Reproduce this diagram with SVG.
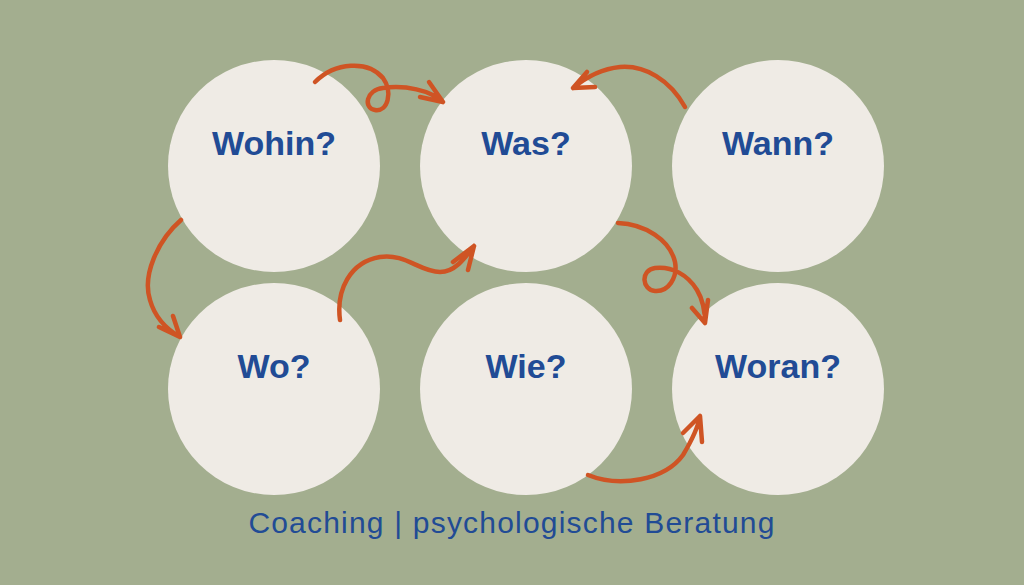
<svg xmlns="http://www.w3.org/2000/svg" width="1024" height="585" viewBox="0 0 1024 585">
<style>
.bg{fill:#a3ae8f}
.c{fill:#efebe5}
.t{font-family:"Liberation Sans",Arial,sans-serif;font-weight:bold;font-size:34px;fill:#214b95;text-anchor:middle}
.cap{font-family:"Liberation Sans",Arial,sans-serif;font-size:30px;letter-spacing:1.2px;fill:#214b95;text-anchor:middle}
.a{fill:none;stroke:#cf5424;stroke-width:4.5;stroke-linecap:round;stroke-linejoin:round}
</style>
<rect class="bg" x="0" y="0" width="1024" height="585"/>
<g id="wohin"><circle class="c" cx="274" cy="166" r="106"/><text class="t" x="274" y="155">Wohin?</text></g>
<g id="was"><circle class="c" cx="526" cy="166" r="106"/><text class="t" x="526" y="155">Was?</text></g>
<g id="wann"><circle class="c" cx="778" cy="166" r="106"/><text class="t" x="778" y="155">Wann?</text></g>
<g id="wo"><circle class="c" cx="274" cy="389" r="106"/><text class="t" x="274" y="378">Wo?</text></g>
<g id="wie"><circle class="c" cx="526" cy="389" r="106"/><text class="t" x="526" y="378">Wie?</text></g>
<g id="woran"><circle class="c" cx="778" cy="389" r="106"/><text class="t" x="778" y="378">Woran?</text></g>
<g id="connectors">
<path class="a" d="M315,82 C335,62 368,60 383,78 C393,92 388,112 375,110 C363,108 366,90 383,88 C405,85 430,90 443,102 M429,82 L443,102 L420,97"/>
<path class="a" d="M685,107 C670,80 645,65 620,67 C600,69 585,78 573,88 M587,72 L573,88 L595,87"/>
<path class="a" d="M181,220 C158,240 142,275 150,300 C155,318 168,330 180,337 M173,316 L180,337 L159,327"/>
<path class="a" d="M340,320 C336,290 350,262 380,257 C405,253 420,272 440,272 C455,272 465,258 474,246 M453,262 L474,246 L468,270"/>
<path class="a" d="M618,223 C645,224 670,240 675,262 C678,278 668,292 655,291 C642,290 640,270 655,268 C672,266 688,275 697,290 C703,300 705,312 705,323 M692,308 L705,323 L708,300"/>
<path class="a" d="M588,475 C620,488 665,480 683,455 C692,440 698,428 700,416 M683,433 L700,416 L702,442"/>
</g>
<text class="cap" x="512" y="533">Coaching | psychologische Beratung</text>
</svg>
